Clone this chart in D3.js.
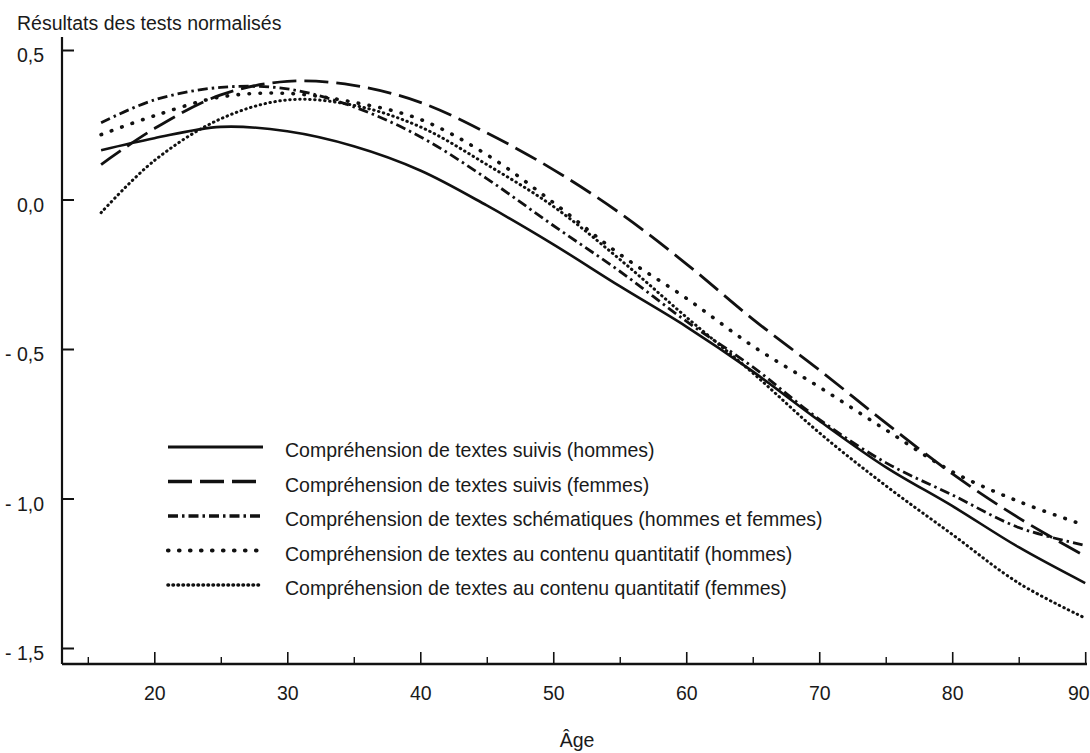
<!DOCTYPE html>
<html>
<head>
<meta charset="utf-8">
<script src="https://cdn.jsdelivr.net/npm/d3@7"></script>
<style>
  body { margin: 0; background: #fff; }
  text { font-family: "Liberation Sans", Arial, sans-serif; fill: #1a1a1a; }
</style>
</head>
<body>
<svg id="chart" width="1090" height="753"></svg>
<script>
"use strict";

// === Data ===
const ages = [16, 20, 25, 30, 35, 40, 45, 50, 55, 60, 65, 70, 75, 80, 85, 90];

const suivisHommes   = [0.165, 0.205, 0.243, 0.228, 0.178, 0.097, -0.02, -0.15, -0.29, -0.425, -0.575, -0.74, -0.895, -1.025, -1.163, -1.283];
const suivisFemmes   = [0.117, 0.237, 0.35, 0.395, 0.382, 0.325, 0.223, 0.1, -0.045, -0.215, -0.4, -0.57, -0.747, -0.917, -1.065, -1.193];
const schematiques   = [0.257, 0.333, 0.375, 0.37, 0.31, 0.21, 0.07, -0.087, -0.24, -0.407, -0.56, -0.735, -0.88, -0.988, -1.097, -1.157];
const quantHommes    = [0.217, 0.28, 0.343, 0.355, 0.325, 0.268, 0.15, -0.01, -0.183, -0.33, -0.49, -0.627, -0.77, -0.91, -1.01, -1.09];
const quantFemmes    = [-0.044, 0.13, 0.27, 0.333, 0.315, 0.243, 0.117, -0.023, -0.2, -0.393, -0.58, -0.78, -0.957, -1.12, -1.283, -1.4];

const seriesLabels = [
  "Compréhension de textes suivis (hommes)",
  "Compréhension de textes suivis (femmes)",
  "Compréhension de textes schématiques (hommes et femmes)",
  "Compréhension de textes au contenu quantitatif (hommes)",
  "Compréhension de textes au contenu quantitatif (femmes)"
];

const xMajorTicks = [20, 30, 40, 50, 60, 70, 80, 90];
const xMinorTicks = [15, 25, 35, 45, 55, 65, 75, 85];
const yTicks = [0.5, 0, -0.5, -1, -1.5];
const yTickLabels = ["0,5", "0,0", "- 0,5", "- 1,0", "- 1,5"];

const titleText = "Résultats des tests normalisés";
const xTitle = "Âge";

// === Line styles, one per series ===
const styles = [
  { width: 2.6, dash: null, cap: "butt" },
  { width: 2.8, dash: "24,8", cap: "butt" },
  { width: 2.8, dash: "10,4,2.5,4", cap: "butt" },
  { width: 3.6, dash: "0.5,10.5", cap: "round" },
  { width: 3.0, dash: "0.5,4.5", cap: "round" }
];

const svg = d3.select("#chart");

const x = d3.scaleLinear().domain([20, 90]).range([154.3, 1085.2]);
const y = d3.scaleLinear().domain([-1.5, 0.5]).range([648, 50]);

const axisX0 = 62, axisX1 = 1087, axisY0 = 37, axisY1 = 664;
const fontSize = "19.5px";

// === Title ===
svg.append("text").attr("x", 17).attr("y", 30)
  .style("font-size", fontSize).text(titleText);

// === Y axis ===
const yAxis = d3.axisLeft(y)
  .tickValues(yTicks)
  .tickSizeInner(-12).tickSizeOuter(0)
  .tickPadding(18)
  .tickFormat((d, i) => yTickLabels[i]);

const gy = svg.append("g").attr("transform", `translate(${axisX0},0)`).call(yAxis);
gy.select(".domain").remove();
gy.selectAll(".tick line").attr("stroke", "#111").attr("stroke-width", 2);
gy.selectAll(".tick text").attr("dy", "0.6em")
  .style("font-size", fontSize).attr("font-family", null);

svg.append("line")
  .attr("x1", axisX0).attr("y1", axisY0).attr("x2", axisX0).attr("y2", axisY1)
  .attr("stroke", "#111").attr("stroke-width", 2.2);

// === X axis ===
const xAxisMajor = d3.axisBottom(x)
  .tickValues(xMajorTicks)
  .tickSizeInner(-12).tickSizeOuter(0)
  .tickPadding(22)
  .tickFormat(d3.format("d"));

const gx = svg.append("g").attr("transform", `translate(0,${axisY1})`).call(xAxisMajor);
gx.select(".domain").remove();
gx.selectAll(".tick line").attr("stroke", "#111").attr("stroke-width", 1.6);
gx.selectAll(".tick text").style("font-size", fontSize).attr("font-family", null);
// last label sits against the right edge
gx.selectAll(".tick text").filter(d => d === 90)
  .attr("text-anchor", "end").attr("x", 4);

const xAxisMinor = d3.axisBottom(x)
  .tickValues(xMinorTicks)
  .tickSizeInner(-7).tickSizeOuter(0)
  .tickFormat("");

const gxm = svg.append("g").attr("transform", `translate(0,${axisY1})`).call(xAxisMinor);
gxm.select(".domain").remove();
gxm.selectAll(".tick line").attr("stroke", "#111").attr("stroke-width", 1.4);

svg.append("line")
  .attr("x1", axisX0).attr("y1", axisY1).attr("x2", axisX1).attr("y2", axisY1)
  .attr("stroke", "#111").attr("stroke-width", 2.6);

svg.append("text").attr("x", 577).attr("y", 747)
  .attr("text-anchor", "middle")
  .style("font-size", fontSize).text(xTitle);

// === Curves ===
const allSeries = [suivisHommes, suivisFemmes, schematiques, quantHommes, quantFemmes];

const line = d3.line()
  .x((d, i) => x(ages[i]))
  .y(d => y(d))
  .curve(d3.curveCatmullRom.alpha(0.5));

allSeries.forEach((values, k) => {
  const s = styles[k];
  svg.append("path")
    .attr("d", line(values))
    .attr("fill", "none")
    .attr("stroke", "#111")
    .attr("stroke-width", s.width)
    .attr("stroke-linecap", s.cap)
    .attr("stroke-dasharray", s.dash);
});

// === Legend ===
const legendX0 = 168, legendX1 = 263, legendTextX = 285;
const legendY = 447, legendStep = 34.5;

seriesLabels.forEach((label, k) => {
  const s = styles[k];
  const ly = legendY + k * legendStep;
  svg.append("line")
    .attr("x1", legendX0).attr("y1", ly).attr("x2", legendX1).attr("y2", ly)
    .attr("stroke", "#111")
    .attr("stroke-width", s.width + 0.6)
    .attr("stroke-linecap", s.cap)
    .attr("stroke-dasharray", s.dash);
  svg.append("text")
    .attr("x", legendTextX).attr("y", ly + 10)
    .style("font-size", fontSize)
    .text(label);
});
</script>
</body>
</html>
